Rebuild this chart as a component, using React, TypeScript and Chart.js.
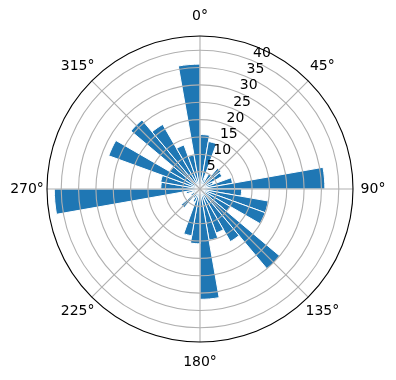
import React, { useEffect, useRef } from 'react';
import { Chart, registerables } from 'chart.js';

Chart.register(...registerables);

// 36 bins of 10 degrees, clockwise from north (0°)
const binStarts: number[] = [
  0, 10, 20, 30, 40, 50, 60, 70, 80,
  90, 100, 110, 120, 130, 140, 150, 160, 170,
  180, 190, 200, 210, 220, 230, 240, 250, 260,
  270, 280, 290, 300, 310, 320, 330, 340, 350,
];
const counts: number[] = [
  15.7, 13.9, 3, 5, 7.8, 7.3, 4, 9.5, 36,
  12, 20, 20, 10, 30, 17.5, 13.5, 15, 31.8,
  15.8, 13.7, 4, 3, 7, 3, 2, 4, 42,
  11.3, 11.5, 28, 10, 26, 21.5, 13.5, 10, 36,
];
const rTicks: number[] = [5, 10, 15, 20, 25, 30, 35, 40];
const rMax = 44.1;
const angleTicks: number[] = [0, 45, 90, 135, 180, 225, 270, 315];
const angleLabels: string[] = ['0°', '45°', '90°', '135°', '180°', '225°', '270°', '315°'];
const rLabelAngle = 22.5;

const FONT = '14px "DejaVu Sans", sans-serif';

const polarFrame = {
  id: 'polarFrame',
  afterDraw(chart: any) {
    const s = chart.scales.r;
    const ctx = chart.ctx as CanvasRenderingContext2D;
    const cx = s.xCenter;
    const cy = s.yCenter;
    const R = s.getDistanceFromCenterForValue(rMax);
    ctx.save();
    ctx.lineWidth = 1.1;
    ctx.strokeStyle = '#b0b0b0';
    rTicks.forEach((v) => {
      const r = s.getDistanceFromCenterForValue(v);
      ctx.beginPath();
      ctx.arc(cx, cy, r, 0, Math.PI * 2);
      ctx.stroke();
    });
    angleTicks.forEach((a) => {
      const t = (a * Math.PI) / 180;
      ctx.beginPath();
      ctx.moveTo(cx, cy);
      ctx.lineTo(cx + R * Math.sin(t), cy - R * Math.cos(t));
      ctx.stroke();
    });
    ctx.strokeStyle = '#000000';
    ctx.beginPath();
    ctx.arc(cx, cy, R, 0, Math.PI * 2);
    ctx.stroke();

    ctx.fillStyle = '#000000';
    ctx.font = FONT;
    // radial tick labels
    ctx.textAlign = 'left';
    ctx.textBaseline = 'bottom';
    const tl = (rLabelAngle * Math.PI) / 180;
    rTicks.forEach((v) => {
      const r = s.getDistanceFromCenterForValue(v);
      ctx.fillText(String(v), cx + r * Math.sin(tl), cy - r * Math.cos(tl));
    });
    // angle labels
    ctx.textAlign = 'center';
    ctx.textBaseline = 'middle';
    angleTicks.forEach((a, i) => {
      const t = (a * Math.PI) / 180;
      const r = R + 20;
      ctx.fillText(angleLabels[i], cx + r * Math.sin(t), cy - r * Math.cos(t));
    });
    ctx.restore();
  },
};

export default function App() {
  const ref = useRef<HTMLCanvasElement | null>(null);
  useEffect(() => {
    if (!ref.current) return;
    const chart = new Chart(ref.current, {
      type: 'polarArea',
      data: {
        labels: binStarts.map((b) => String(b)),
        datasets: [
          {
            data: counts,
            backgroundColor: '#1f77b4',
            borderColor: '#ffffff',
            borderWidth: 1,
          },
        ],
      },
      options: {
        responsive: false,
        animation: false,
        devicePixelRatio: 1,
        layout: { padding: { left: 47, right: 43, top: 36, bottom: 38 } },
        plugins: {
          legend: { display: false },
          tooltip: { enabled: false },
        },
        scales: {
          r: {
            min: 0,
            max: rMax,
            startAngle: 0,
            ticks: { display: false, stepSize: 5 },
            grid: { display: false },
            angleLines: { display: false },
            pointLabels: { display: false },
          },
        },
      },
      plugins: [polarFrame],
    });
    return () => chart.destroy();
  }, []);
  return (
    <canvas
      ref={ref}
      width={396}
      height={380}
      style={{ position: 'absolute', left: 0, top: 0, width: 396, height: 380 }}
    />
  );
}
